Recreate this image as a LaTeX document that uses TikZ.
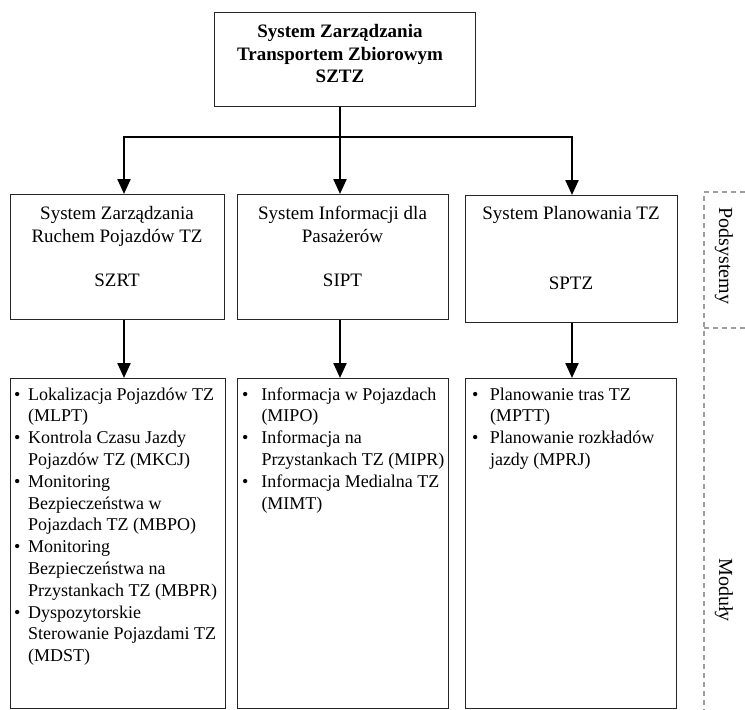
\documentclass[tikz,border=0pt]{standalone}
\usepackage{fontspec}
\setmainfont{Liberation Serif}
\usetikzlibrary{arrows.meta}
\begin{document}
\begin{tikzpicture}[x=1pt,y=-1pt,
  boxshape/.style={draw=black!85, line width=1.2pt, inner sep=0pt, anchor=north west},
  connline/.style={line width=2.3pt, black},
  arrowline/.style={connline, -{Triangle[width=13pt,length=15pt]}},
  subtxt/.style={anchor=north, inner sep=0pt, align=center, font=\fontsize{19}{22.3}\selectfont},
  toptxt/.style={anchor=north, inner sep=0pt, align=center, font=\bfseries\fontsize{19}{22.5}\selectfont},
  modtxt/.style={anchor=north west, inner sep=0pt, font=\fontsize{18}{21.8}\selectfont},
  sidedash/.style={draw=black!38, line width=1.2pt, dash pattern=on 5pt off 4pt},
  sidetxt/.style={rotate=-90, inner sep=0pt, font=\fontsize{20}{24}\selectfont}
]
\useasboundingbox (0,0) rectangle (745,710);

% boxes
\node[boxshape, minimum width=261pt, minimum height=94pt] (top) at (214,12) {};
\node[boxshape, minimum width=214pt, minimum height=125pt] (s1) at (10,194) {};
\node[boxshape, minimum width=211pt, minimum height=125pt] (s2) at (237,194) {};
\node[boxshape, minimum width=212pt, minimum height=127pt] (s3) at (465,195) {};
\node[boxshape, minimum width=215pt, minimum height=330pt] (m1) at (10,378) {};
\node[boxshape, minimum width=211pt, minimum height=330pt] (m2) at (237,378) {};
\node[boxshape, minimum width=211pt, minimum height=330pt] (m3) at (465,378) {};

% texts
\node[toptxt] (toptext) at (340,22.5) {\rule{0pt}{15pt}System Zarządzania\\Transportem Zbiorowym\\SZTZ};
\node[subtxt] (s1text) at (117,204.5) {\rule{0pt}{15pt}System Zarządzania\\Ruchem Pojazdów TZ\\[22.3pt]SZRT};
\node[subtxt] (s2text) at (342.5,204.5) {\rule{0pt}{15pt}System Informacji dla\\Pasażerów\\[22.3pt]SIPT};
\node[subtxt] (s3text) at (571,204.5) {\rule{0pt}{15pt}System Planowania TZ\\[47pt]SPTZ};

\node[modtxt] (m1text) at (14,384.7) {\begin{tabular}{@{}l@{\hspace{7.7pt}}l@{}}
\textbullet & Lokalizacja Pojazdów TZ\\
 & (MLPT)\\
\textbullet & Kontrola Czasu Jazdy\\
 & Pojazdów TZ (MKCJ)\\
\textbullet & Monitoring\\
 & Bezpieczeństwa w\\
 & Pojazdach TZ (MBPO)\\
\textbullet & Monitoring\\
 & Bezpieczeństwa na\\
 & Przystankach TZ (MBPR)\\
\textbullet & Dyspozytorskie\\
 & Sterowanie Pojazdami TZ\\
 & (MDST)
\end{tabular}};
\node[modtxt] (m2text) at (242,384.7) {\begin{tabular}{@{}l@{\hspace{13pt}}l@{}}
\textbullet & Informacja w Pojazdach\\
 & (MIPO)\\
\textbullet & Informacja na\\
 & Przystankach TZ (MIPR)\\
\textbullet & Informacja Medialna TZ\\
 & (MIMT)
\end{tabular}};
\node[modtxt] (m3text) at (472,384.7) {\begin{tabular}{@{}l@{\hspace{11.5pt}}l@{}}
\textbullet & Planowanie tras TZ\\
 & (MPTT)\\
\textbullet & Planowanie rozkładów\\
 & jazdy (MPRJ)
\end{tabular}};

% connectors
\coordinate (jL) at (124,137);
\coordinate (jM) at (340,137);
\coordinate (jR) at (572,137);
\draw[connline] (top.south -| jM) -- (jM);
\draw[arrowline] (jM) -| (s1.north -| jL);
\draw[arrowline] (jM) -| (s3.north -| jR);
\draw[arrowline] (jM) -- (s2.north -| jM);
\draw[arrowline] (s1.south -| jL) -- (m1.north -| jL);
\draw[arrowline] (s2.south -| jM) -- (m2.north -| jM);
\draw[arrowline] (s3.south -| jR) -- (m3.north -| jR);

% side bracket
\coordinate (sTop) at (745,192);
\coordinate (sCorner) at (704,192);
\coordinate (sBot) at (704,710);
\coordinate (sDivL) at (704,328);
\coordinate (sDivR) at (745,328);
\draw[sidedash] (sTop) -- (sCorner) -- (sBot);
\draw[sidedash] (sDivL) -- (sDivR);
\node[sidetxt] (podsys) at (724,256) {Podsystemy};
\node[sidetxt] (moduly) at (724,590) {Moduły};
\end{tikzpicture}
\end{document}
